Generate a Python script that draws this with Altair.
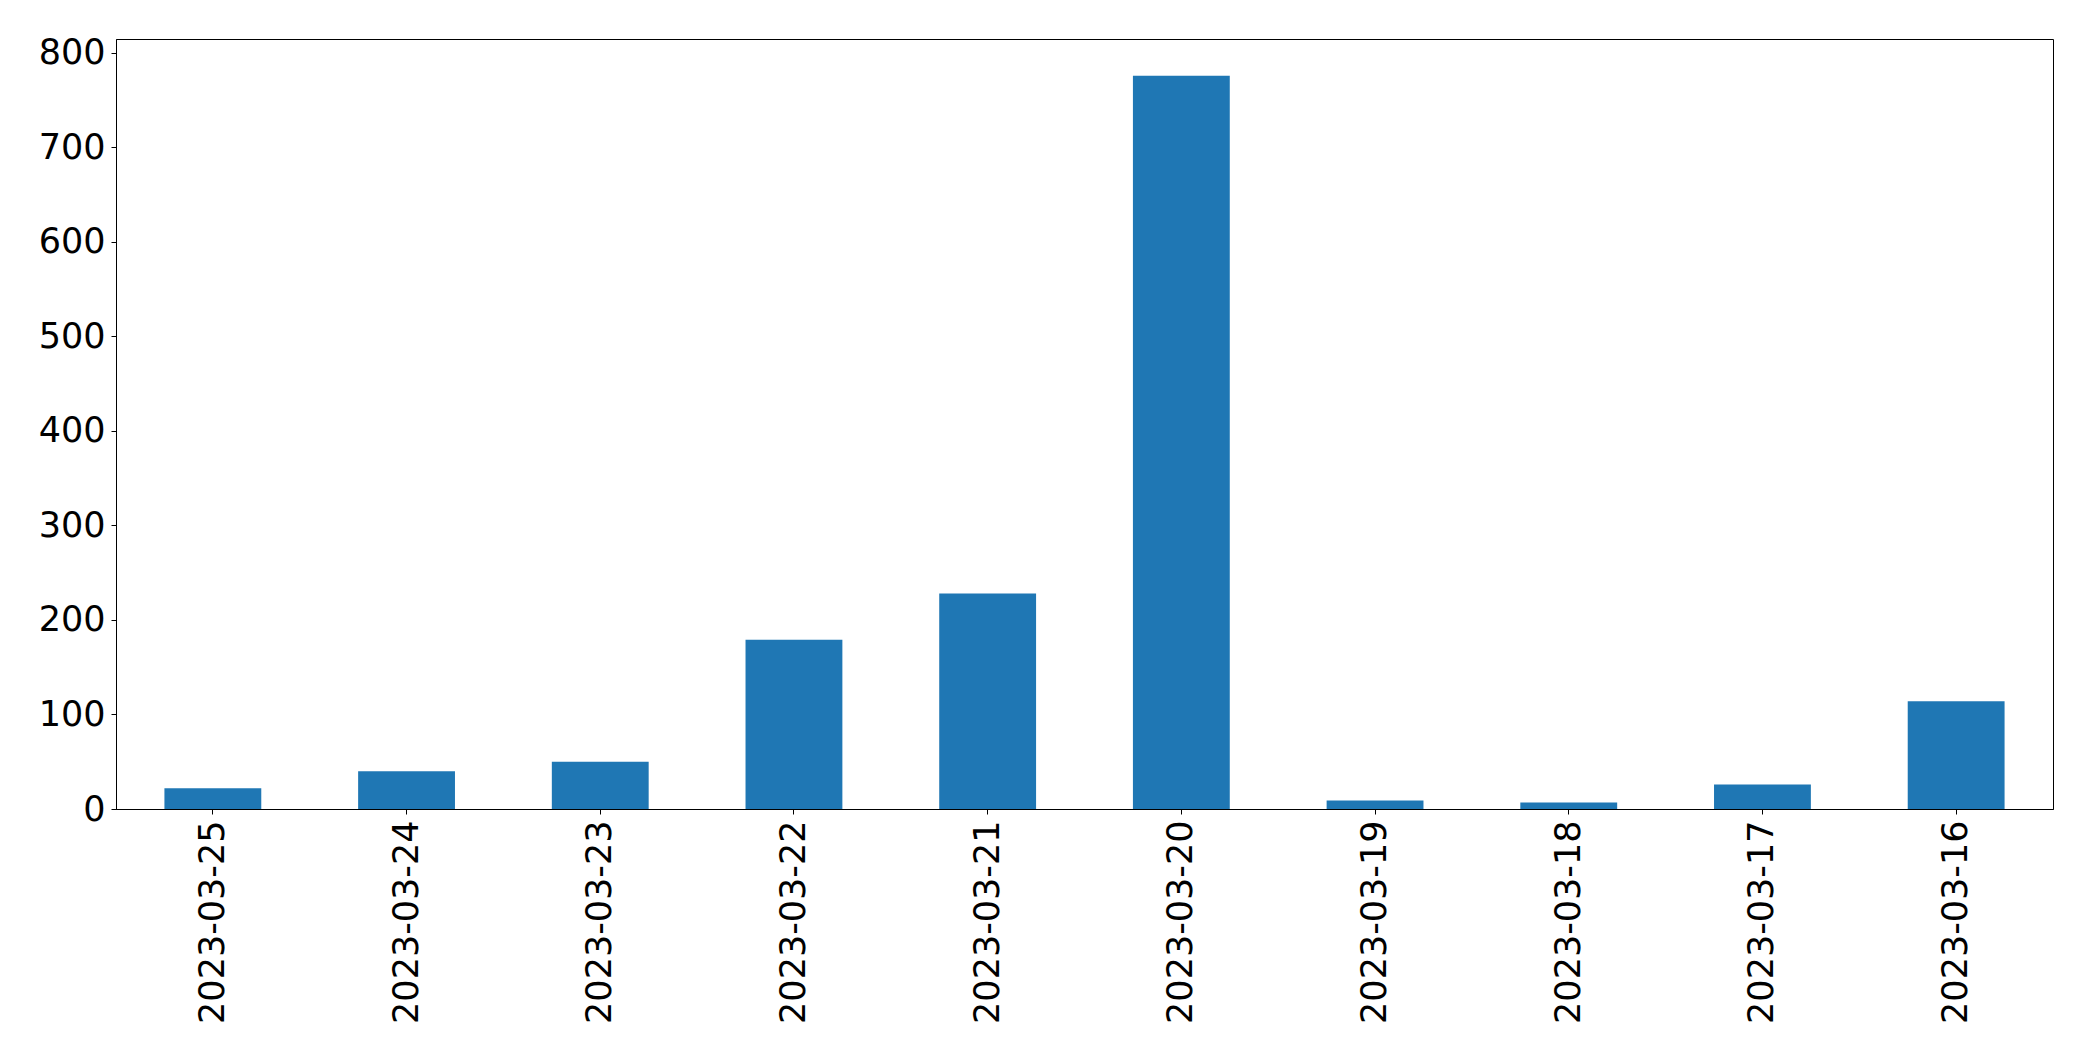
import altair as alt
import pandas as pd

dates = ["2023-03-25", "2023-03-24", "2023-03-23", "2023-03-22", "2023-03-21",
         "2023-03-20", "2023-03-19", "2023-03-18", "2023-03-17", "2023-03-16"]
counts = [22, 40, 50, 179, 228, 776, 9, 7, 26, 114]
y_ticks = [0, 100, 200, 300, 400, 500, 600, 700, 800]

df = pd.DataFrame({"date": dates, "count": counts})

FONT = "DejaVu Sans"
FS = 35

chart = alt.Chart(df).mark_bar(color="#1f77b4").encode(
    x=alt.X("date:N", sort=None,
            scale=alt.Scale(paddingInner=0.5, paddingOuter=0.25),
            axis=alt.Axis(title=None, labelAngle=270, labelFontSize=FS,
                          labelFont=FONT, labelColor="black", labelLimit=0,
                          tickColor="black", tickSize=5, labelPadding=6,
                          domainColor="black", grid=False)),
    y=alt.Y("count:Q",
            scale=alt.Scale(domain=[0, 814.8], nice=False, zero=True),
            axis=alt.Axis(title=None, values=y_ticks, labelFontSize=FS,
                          labelFont=FONT, labelColor="black", labelLimit=0,
                          tickColor="black", tickSize=5, labelPadding=6,
                          domainColor="black", grid=False)),
).properties(
    width=1937, height=770,
    autosize=alt.AutoSizeParams(type="none"),
    padding={"left": 108, "top": 31, "right": 30, "bottom": 240},
).configure_view(stroke="black", strokeWidth=1).configure_axis(
    labelOverlap=False, labelBound=False
)

chart.save("out.html", embed_options={"renderer": "svg", "actions": False})
